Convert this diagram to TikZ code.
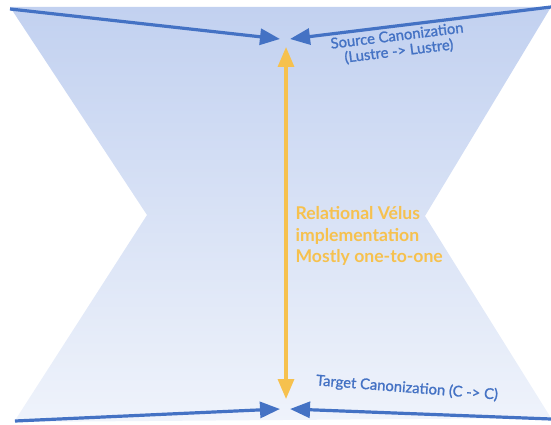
\documentclass[tikz,border=0pt]{standalone}
\usepackage{fontspec}
\setmainfont{Lato}
\newfontfamily\canonfont{Lato}[FakeBold=1.2]
\usepackage{tikz}
\usetikzlibrary{arrows.meta}

\definecolor{canonblue}{HTML}{4472C4}
\definecolor{relyellow}{HTML}{F6C14E}
\definecolor{funneltop}{HTML}{C2D1F0}
\definecolor{funnelbot}{HTML}{EFF3FB}

\tikzset{
  canon/.style={canonblue, line width=3.2pt, -{Triangle[length=20pt,width=16pt]}},
  relation/.style={relyellow, line width=3.2pt, {Triangle[length=20pt,width=16pt]}-{Triangle[length=20pt,width=16pt]}},
  canonlabel/.style={canonblue, font=\canonfont\fontsize{14.8}{15.5}\selectfont, align=center},
  rellabel/.style={relyellow, font=\bfseries\fontsize{17.6}{21.5}\selectfont, align=left, anchor=west}
}

\begin{document}
\begin{tikzpicture}[x=1pt, y=-1pt]

\useasboundingbox (0,0) rectangle (551,425);

% funnel shape, source on top and target at the bottom
\shade[top color=funneltop, bottom color=funnelbot]
 (10,7) -- (551,7) -- (425,216) -- (551,418) -- (14,422) -- (147,215) -- cycle;

%% end points of the arrows
\coordinate (srcleft) at (10,9);
\coordinate (srcright) at (551,7);
\coordinate (tgtleft) at (15,421);
\coordinate (tgtright) at (551,419);
\coordinate (srcin) at (280,39);
\coordinate (srcout) at (290,39);
\coordinate (tgtin) at (280,409);
\coordinate (tgtout) at (290,409);
\coordinate (reltop) at (286,47);
\coordinate (relbot) at (286,399);

%% source canonization
\draw[canon] (srcleft) -- (srcin);
\draw[canon] (srcright) -- (srcout);
\path
(398,44) node [canonlabel, rotate=7] (srclabel) {Source Canonization\\(Lustre -> Lustre)};

%% target canonization
\draw[canon] (tgtleft) -- (tgtin);
\draw[canon] (tgtright) -- (tgtout);
\path
(407,388) node [canonlabel, rotate=-4.5] (tgtlabel) {Target Canonization (C -> C)};

%% relational implementation
\draw[relation] (reltop) -- (relbot);
\path
(292,236) node [rellabel] (rellabel) {Relational Vélus\\implementation\\Mostly one-to-one};

\end{tikzpicture}
\end{document}
